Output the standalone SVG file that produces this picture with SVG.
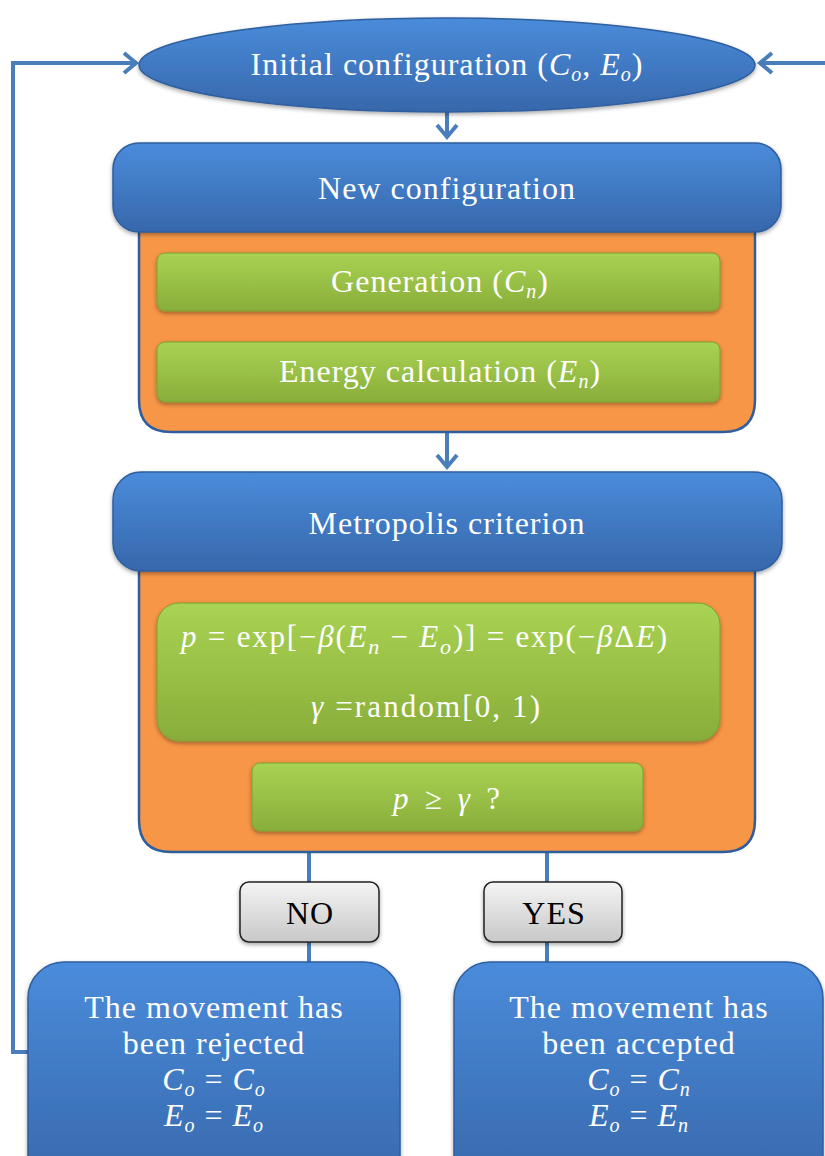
<svg xmlns="http://www.w3.org/2000/svg" width="825" height="1156" viewBox="0 0 825 1156">
<style>
.t{font-family:"Liberation Serif","DejaVu Serif",serif;font-size:32px;letter-spacing:1px;fill:#fff;text-anchor:middle}
.m{font-family:"Liberation Serif","DejaVu Serif",serif;font-size:31px;fill:#fff}
.tb{font-family:"Liberation Serif","DejaVu Serif",serif;font-size:32px;letter-spacing:1px;fill:#000;text-anchor:middle}
.i{font-style:italic}
.c{fill:none;stroke:#4a7ebb;stroke-width:4}
.blue{fill:url(#gBlue);stroke:#2f5e9e;stroke-width:1.5}
.org{fill:#f79646;stroke:#2f5e9e;stroke-width:2.5}
.grn{fill:url(#gGreen);stroke:#7ba035;stroke-width:1}
.gry{fill:url(#gGray);stroke:#222;stroke-width:1.5}
</style>
<defs>
<linearGradient id="gBlue" x1="0" y1="0" x2="0" y2="1">
<stop offset="0" stop-color="#4a8cdb"/><stop offset="1" stop-color="#3767ab"/>
</linearGradient>
<linearGradient id="gGreen" x1="0" y1="0" x2="0" y2="1">
<stop offset="0" stop-color="#a9d353"/><stop offset="1" stop-color="#89ad3a"/>
</linearGradient>
<linearGradient id="gGray" x1="0" y1="0" x2="0" y2="1">
<stop offset="0" stop-color="#f4f4f4"/><stop offset="1" stop-color="#c8c8c8"/>
</linearGradient>
<filter id="sh" x="-10%" y="-10%" width="120%" height="130%">
<feDropShadow dx="0" dy="2" stdDeviation="2" flood-color="#000" flood-opacity="0.35"/>
</filter>
<marker id="ar" markerUnits="userSpaceOnUse" markerWidth="24" markerHeight="24" refX="20" refY="12" orient="auto">
<path d="M8,2 L20,12 L8,22" fill="none" stroke="#4a7ebb" stroke-width="4"/>
</marker>
</defs>

<g id="connectors">
<path class="c" d="M447,112 V137" marker-end="url(#ar)"/>
<path class="c" d="M447,432 V467" marker-end="url(#ar)"/>
<path class="c" d="M309,852 V965"/>
<path class="c" d="M547,852 V965"/>
<path class="c" d="M30,1052 H13 V63 H136" marker-end="url(#ar)"/>
<path class="c" d="M825,63 H760" marker-end="url(#ar)"/>
</g>

<g id="initial">
<ellipse class="blue" cx="447" cy="65" rx="308" ry="47" filter="url(#sh)"/>
<text class="t" x="447" y="75">Initial configuration (<tspan class="i">C</tspan><tspan class="i" font-size="20" dy="6">o</tspan><tspan dy="-6">, </tspan><tspan class="i">E</tspan><tspan class="i" font-size="20" dy="6">o</tspan><tspan dy="-6">)</tspan></text>
</g>

<g id="newconfig">
<path class="org" d="M139,225 H755 V400 Q755,432 723,432 H171 Q139,432 139,400 Z"/>
<rect class="blue" x="113" y="143" width="668" height="89" rx="26" filter="url(#sh)"/>
<text class="t" x="447" y="199">New configuration</text>
</g>

<g id="generation">
<rect class="grn" x="157" y="253" width="563" height="58" rx="8" filter="url(#sh)"/>
<text class="t" x="440" y="292">Generation (<tspan class="i">C</tspan><tspan class="i" font-size="20" dy="6">n</tspan><tspan dy="-6">)</tspan></text>
</g>

<g id="energy">
<rect class="grn" x="157" y="342" width="563" height="60" rx="8" filter="url(#sh)"/>
<text class="t" x="440" y="382">Energy calculation (<tspan class="i">E</tspan><tspan class="i" font-size="20" dy="6">n</tspan><tspan dy="-6">)</tspan></text>
</g>

<g id="metropolis">
<path class="org" d="M139,565 H755 V820 Q755,852 723,852 H171 Q139,852 139,820 Z"/>
<rect class="blue" x="113" y="472" width="669" height="99" rx="28" filter="url(#sh)"/>
<text class="t" x="447" y="534">Metropolis criterion</text>
</g>

<g id="formula">
<rect class="grn" x="157" y="603" width="563" height="138" rx="22" filter="url(#sh)"/>
<text class="m" x="181" y="647" textLength="486" lengthAdjust="spacing"><tspan class="i">p</tspan> = exp[−<tspan class="i">β</tspan>(<tspan class="i">E</tspan><tspan class="i" font-size="22" dy="7">n</tspan><tspan dy="-7"> − </tspan><tspan class="i">E</tspan><tspan class="i" font-size="22" dy="7">o</tspan><tspan dy="-7">)] = exp(−</tspan><tspan class="i">β</tspan>Δ<tspan class="i">E</tspan>)</text>
<text class="m" x="311" y="717" textLength="229" lengthAdjust="spacing"><tspan class="i">γ</tspan> =random[0, 1)</text>
</g>

<g id="test">
<rect class="grn" x="252" y="763" width="391" height="68" rx="8" filter="url(#sh)"/>
<text class="m" x="393" y="809" textLength="107" lengthAdjust="spacing"><tspan class="i">p</tspan> ≥ <tspan class="i">γ</tspan> ?</text>
</g>

<g id="no">
<rect class="gry" x="240" y="882" width="139" height="60" rx="9" filter="url(#sh)"/>
<text class="tb" x="310" y="924">NO</text>
</g>

<g id="yes">
<rect class="gry" x="484" y="882" width="138" height="60" rx="9" filter="url(#sh)"/>
<text class="tb" x="554" y="924">YES</text>
</g>

<g id="rejected">
<rect class="blue" x="28" y="962" width="372" height="230" rx="36" filter="url(#sh)"/>
<text class="t" x="214" y="1018">The movement has</text>
<text class="t" x="214" y="1054">been rejected</text>
<text class="t" x="214" y="1090"><tspan class="i">C</tspan><tspan class="i" font-size="20" dy="6">o</tspan><tspan dy="-6"> = </tspan><tspan class="i">C</tspan><tspan class="i" font-size="20" dy="6">o</tspan></text>
<text class="t" x="214" y="1126"><tspan class="i">E</tspan><tspan class="i" font-size="20" dy="6">o</tspan><tspan dy="-6"> = </tspan><tspan class="i">E</tspan><tspan class="i" font-size="20" dy="6">o</tspan></text>
</g>

<g id="accepted">
<rect class="blue" x="454" y="962" width="369" height="230" rx="36" filter="url(#sh)"/>
<text class="t" x="639" y="1018">The movement has</text>
<text class="t" x="639" y="1054">been accepted</text>
<text class="t" x="639" y="1090"><tspan class="i">C</tspan><tspan class="i" font-size="20" dy="6">o</tspan><tspan dy="-6"> = </tspan><tspan class="i">C</tspan><tspan class="i" font-size="20" dy="6">n</tspan></text>
<text class="t" x="639" y="1126"><tspan class="i">E</tspan><tspan class="i" font-size="20" dy="6">o</tspan><tspan dy="-6"> = </tspan><tspan class="i">E</tspan><tspan class="i" font-size="20" dy="6">n</tspan></text>
</g>
</svg>
